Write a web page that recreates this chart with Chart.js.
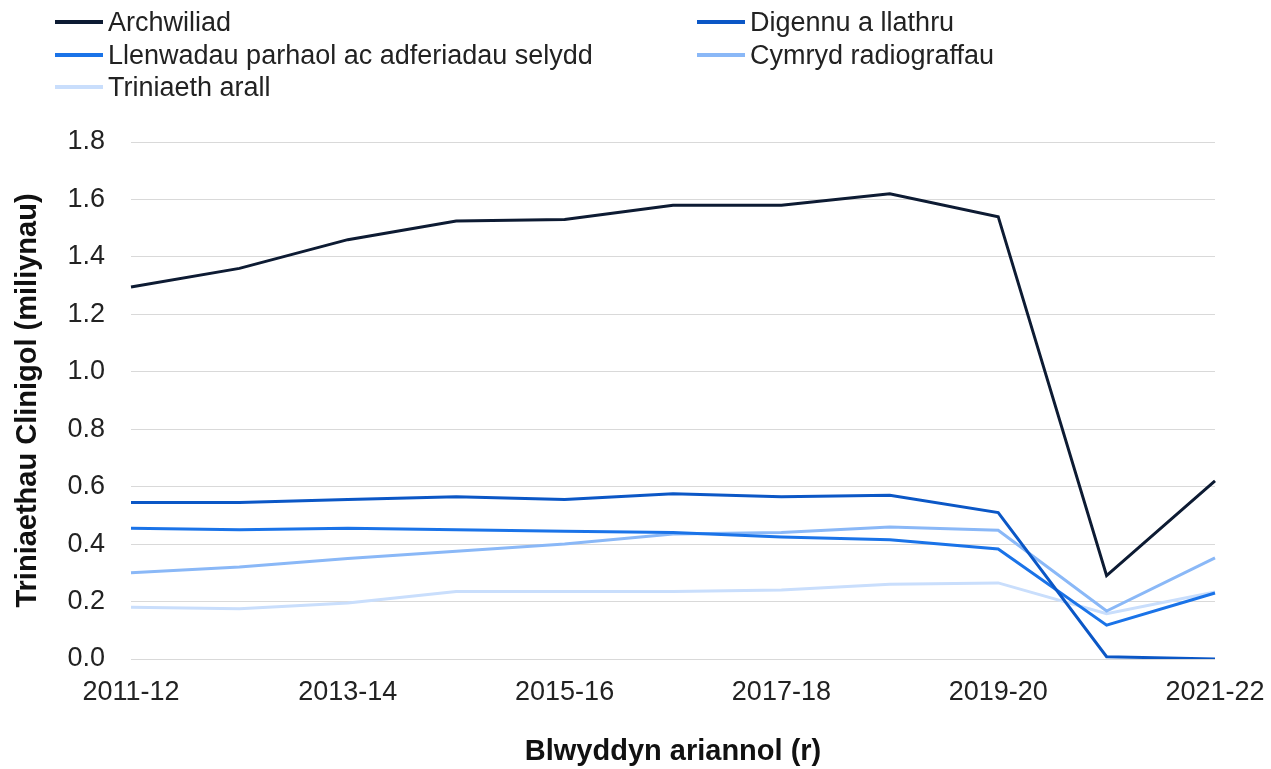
<!DOCTYPE html>
<html lang="cy">
<head>
<meta charset="utf-8">
<script src="https://cdn.jsdelivr.net/npm/chart.js@4"></script>
<style>
    html, body { margin: 0; padding: 0; background: #fff; }
    #wrap { position: relative; width: 1271px; height: 769px; }
    #legend { position: absolute; left: 0; top: 0; width: 1271px; height: 110px;
        font-family: "Liberation Sans", Arial, sans-serif; font-size: 27px; color: #222; }
    .item { position: absolute; height: 32px; line-height: 32px; white-space: nowrap; }
    .item span.swatch { position: absolute; left: 0; top: 14px; width: 48px; height: 4px; }
    .item span.label { position: absolute; left: 53px; top: 0; }
</style>
</head>
<body>
<div id="wrap">
    <canvas id="treatmentsChart" width="1271" height="769"></canvas>
    <div id="legend"></div>
</div>
<script>
// Blynyddoedd ariannol
const years = ['2011-12', '2012-13', '2013-14', '2014-15', '2015-16', '2016-17',
    '2017-18', '2018-19', '2019-20', '2020-21', '2021-22'];

// Triniaethau (miliynau)
const archwiliad = [1.295, 1.36, 1.46, 1.525, 1.53, 1.58, 1.58, 1.62, 1.54, 0.29, 0.62];
const digennu = [0.545, 0.545, 0.555, 0.565, 0.555, 0.575, 0.565, 0.57, 0.51, 0.008, 0.0];
const llenwadau = [0.455, 0.45, 0.455, 0.45, 0.445, 0.44, 0.425, 0.415, 0.383, 0.118, 0.23];
const cymryd = [0.30, 0.32, 0.35, 0.375, 0.40, 0.435, 0.44, 0.46, 0.448, 0.167, 0.352];
const triniaethArall = [0.18, 0.175, 0.195, 0.235, 0.235, 0.235, 0.24, 0.26, 0.265, 0.158, 0.233];

const seriesNames = ['Archwiliad', 'Digennu a llathru', 'Llenwadau parhaol ac adferiadau selydd',
    'Cymryd radiograffau', 'Triniaeth arall'];
const seriesData = [archwiliad, digennu, llenwadau, cymryd, triniaethArall];
const seriesColors = ['#0d1b33', '#0b57c6', '#1a73e8', '#8ab8f7', '#c9defc'];

const yTicks = [0, 0.2, 0.4, 0.6, 0.8, 1.0, 1.2, 1.4, 1.6, 1.8];

document.addEventListener('DOMContentLoaded', function() {
    const font = "'Liberation Sans', Arial, sans-serif";

    // Allwedd mewn dwy golofn
    const legend = document.getElementById('legend');
    const legendPos = [[55, 6], [697, 6], [55, 39], [697, 39], [55, 71]];
    seriesNames.forEach((name, i) => {
        const div = document.createElement('div');
        div.className = 'item';
        div.style.left = legendPos[i][0] + 'px';
        div.style.top = legendPos[i][1] + 'px';
        div.innerHTML = `<span class="swatch" style="background:${seriesColors[i]}"></span><span class="label">${name}</span>`;
        legend.appendChild(div);
    });

    const ctx = document.getElementById('treatmentsChart').getContext('2d');
    new Chart(ctx, {
        type: 'line',
        data: {
            labels: years,
            datasets: seriesNames.map((name, i) => ({
                label: name,
                data: seriesData[i],
                borderColor: seriesColors[i],
                backgroundColor: seriesColors[i],
                borderWidth: 3,
                pointRadius: 0,
                tension: 0,
                fill: false
            }))
        },
        options: {
            responsive: false,
            animation: false,
            layout: { padding: { top: 142, right: 56, left: 0, bottom: 0 } },
            plugins: {
                legend: { display: false },
                tooltip: { enabled: false }
            },
            scales: {
                x: {
                    offset: false,
                    grid: { display: false, drawTicks: false },
                    border: { display: false },
                    ticks: {
                        autoSkip: false,
                        maxRotation: 0,
                        padding: 17,
                        color: '#222',
                        font: { family: font, size: 27 },
                        callback: function(value, index) {
                            return index % 2 === 0 ? years[index] : '';
                        }
                    },
                    title: {
                        display: true,
                        text: 'Blwyddyn ariannol (r)',
                        color: '#111',
                        font: { family: font, size: 29, weight: 'bold' },
                        padding: { top: 0, bottom: 0 }
                    },
                    afterFit: function(scale) {
                        scale.height = 110;
                        scale.paddingLeft = 0;
                        scale.paddingRight = 0;
                    }
                },
                y: {
                    min: 0,
                    max: 1.8,
                    grid: { color: '#d9d9d9', lineWidth: 1, drawTicks: false },
                    border: { display: false },
                    afterBuildTicks: function(scale) {
                        scale.ticks = yTicks.map(v => ({ value: v }));
                    },
                    ticks: {
                        padding: 26,
                        color: '#222',
                        font: { family: font, size: 27 },
                        callback: function(value) { return value.toFixed(1); }
                    },
                    title: {
                        display: true,
                        text: 'Triniaethau Clinigol (miliynau)',
                        color: '#111',
                        font: { family: font, size: 29, weight: 'bold' },
                        padding: { top: 11, bottom: 0 }
                    },
                    afterFit: function(scale) { scale.width = 131; }
                }
            }
        }
    });
});
</script>
</body>
</html>
